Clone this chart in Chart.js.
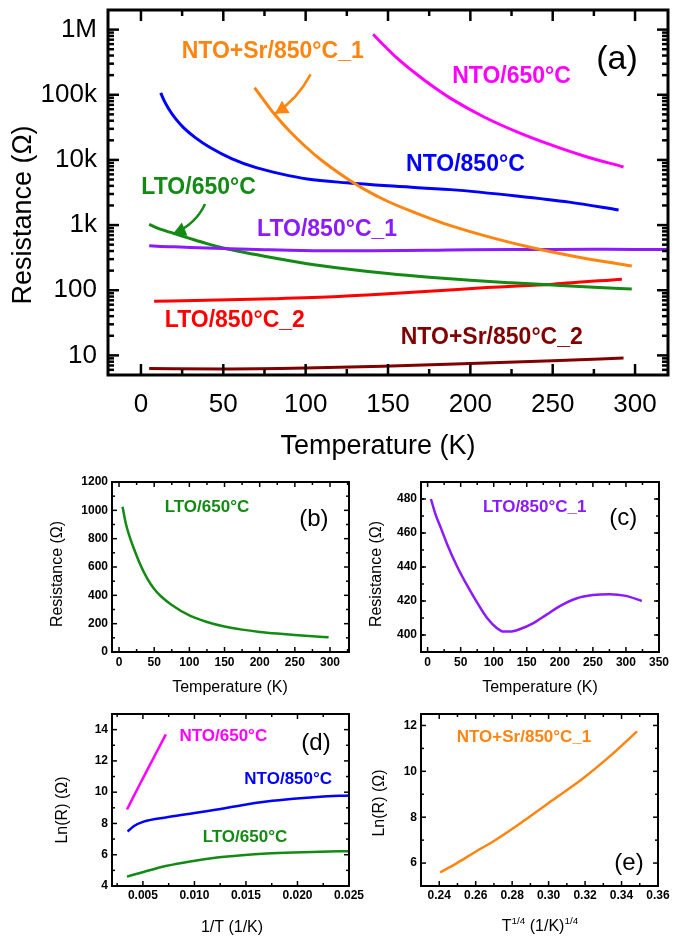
<!DOCTYPE html>
<html><head><meta charset="utf-8">
<script src="https://cdn.jsdelivr.net/npm/chart.js@4/dist/chart.umd.min.js"></script>
<style>
html,body{margin:0;padding:0;background:#fff;}
body{width:682px;height:939px;position:relative;overflow:hidden;}
canvas{position:absolute;}
</style></head>
<body>
<canvas id="pa"></canvas><canvas id="pb"></canvas><canvas id="pc"></canvas><canvas id="pd"></canvas><canvas id="pe"></canvas>
<script>
// ================= DATA =================
// Panel (a) axis ticks
const aTicksX = [0, 50, 100, 150, 200, 250, 300];
const aTickLabelsX = ['0', '50', '100', '150', '200', '250', '300'];
const aTicksY = [10, 100, 1000, 10000, 100000, 1000000];
const aTickLabelsY = ['10', '100', '1k', '10k', '100k', '1M'];

// Series: Temperature (K) / Resistance (Ohm)
const tNTO650 = [141, 147, 155, 167, 178, 188, 208, 229, 249, 269, 293];
const rNTO650 = [850000, 590000, 375000, 210000, 130000, 88000, 46000, 26500, 17000, 11500, 7800];

const tNTOSr1 = [69, 75, 81, 90, 101, 110, 121, 136, 150, 167, 188, 214, 239, 265, 298];
const rNTOSr1 = [129000, 80000, 50600, 28000, 15100, 9700, 6100, 3500, 2300, 1530, 980, 630, 440, 324, 235];

const tNTO850 = [12, 14, 17, 21, 26, 33, 42, 55, 70, 85, 101, 125, 150, 188, 228, 260, 290];
const rNTO850 = [107000, 82000, 60000, 43000, 31000, 22000, 15500, 10500, 7600, 6100, 5100, 4450, 4000, 3500, 2800, 2250, 1700];

const tLTO650 = [5, 10, 15, 20, 30, 40, 50, 60, 75, 100, 125, 150, 175, 200, 225, 250, 275, 298];
const rLTO650 = [1025, 900, 815, 745, 620, 520, 445, 392, 332, 258, 212, 180, 158, 142, 130, 120, 111, 104];

const tLTO850_1 = [5, 12, 20, 30, 45, 60, 75, 90, 105, 115, 125, 140, 160, 180, 200, 225, 250, 275, 300, 324];
const rLTO850_1 = [480, 471, 463, 453, 440, 429, 419, 410, 404, 402, 402, 403.5, 407, 412, 417, 421.5, 423.5, 424, 423, 420];

const tLTO850_2 = [8, 40, 80, 120, 150, 180, 210, 250, 292];
const rLTO850_2 = [68, 70, 74, 80, 88, 98, 110, 124, 148];

const tNTOSr2 = [5, 50, 100, 147, 200, 250, 293];
const rNTOSr2 = [6.3, 6.2, 6.4, 6.8, 7.5, 8.3, 9.1];

// Panel (b) ticks
const bTicksX = [0, 50, 100, 150, 200, 250, 300];
const bTickLabelsX = ['0', '50', '100', '150', '200', '250', '300'];
const bTicksY = [0, 200, 400, 600, 800, 1000, 1200];
const bTickLabelsY = ['0', '200', '400', '600', '800', '1000', '1200'];

// Panel (c) ticks
const cTicksX = [0, 50, 100, 150, 200, 250, 300, 350];
const cTickLabelsX = ['0', '50', '100', '150', '200', '250', '300', '350'];
const cTicksY = [400, 420, 440, 460, 480];
const cTickLabelsY = ['400', '420', '440', '460', '480'];

// Panel (d): 1/T (1/K) vs Ln(R)
const dInvNTO650 = [0.00345, 0.0040, 0.0045, 0.0050, 0.0055, 0.0060, 0.0065, 0.00723];
const dLnNTO650 = [8.89, 9.6, 10.25, 10.88, 11.52, 12.15, 12.78, 13.70];
const dInvNTO850 = [0.00352, 0.0041, 0.00507, 0.00733, 0.00959, 0.0122, 0.0146, 0.0170, 0.0196, 0.0222, 0.0250];
const dLnNTO850 = [7.48, 7.82, 8.12, 8.40, 8.62, 8.89, 9.17, 9.40, 9.58, 9.71, 9.79];
const dInvLTO650 = [0.00345, 0.00507, 0.00733, 0.00959, 0.0122, 0.0146, 0.0170, 0.0196, 0.0222, 0.0250];
const dLnLTO650 = [4.60, 4.90, 5.29, 5.57, 5.82, 5.97, 6.08, 6.15, 6.19, 6.23];
const dTicksX = [0.005, 0.010, 0.015, 0.020, 0.025];
const dTickLabelsX = ['0.005', '0.010', '0.015', '0.020', '0.025'];
const dTicksY = [4, 6, 8, 10, 12, 14];
const dTickLabelsY = ['4', '6', '8', '10', '12', '14'];

// Panel (e): T^1/4 vs Ln(R) for NTO+Sr/850°C_1
const eX = [0.2405, 0.2497, 0.2588, 0.2715, 0.286, 0.3025, 0.319, 0.3335, 0.3485];
const eLn = [5.59, 6.0, 6.44, 7.04, 7.82, 8.76, 9.70, 10.65, 11.74];
const eTicksX = [0.24, 0.26, 0.28, 0.30, 0.32, 0.34, 0.36];
const eTickLabelsX = ['0.24', '0.26', '0.28', '0.30', '0.32', '0.34', '0.36'];
const eTicksY = [6, 8, 10, 12];
const eTickLabelsY = ['6', '8', '10', '12'];

// ================= STYLE =================
const FONT = '"Liberation Sans", Arial, Helvetica, sans-serif';
const COL = {
  nto650: '#ff00ff', ntoSr1: '#ff8410', nto850: '#0000ff', lto650: '#138a13',
  lto850_1: '#8b1aff', lto850_2: '#ff0000', ntoSr2: '#800000'
};
Chart.defaults.font.family = FONT;
Chart.defaults.color = '#000';

function pts(xs, ys) { return xs.map((v, i) => ({x: v, y: ys[i]})); }
function ds(xs, ys, color, w) {
  return {data: pts(xs, ys), borderColor: color, backgroundColor: color, borderWidth: w,
    showLine: true, pointRadius: 0, pointHoverRadius: 0, cubicInterpolationMode: 'monotone', fill: false};
}
function range(a, b, s) { const r = []; for (let v = a; v <= b + 1e-9; v += s) r.push(+v.toFixed(6)); return r; }

function axis(o) {
  return {
    type: o.type || 'linear', min: o.min, max: o.max, position: o.horiz ? 'bottom' : 'left',
    grid: {display: false, drawTicks: false}, border: {display: false},
    ticks: {font: o.font, color: '#000', padding: o.pad, autoSkip: false, maxRotation: 0, minRotation: 0,
      callback: (v, i) => o.labels[i]},
    afterBuildTicks: s => { s.ticks = o.values.map(v => ({value: v})); },
    afterFit: s => {
      if (o.horiz) s.height = o.size; else s.width = o.size;
      s.paddingLeft = s.paddingRight = s.paddingTop = s.paddingBottom = 0;
    }
  };
}

function drawRich(ctx, parts, x, y, size, weight, rot) {
  ctx.save();
  ctx.translate(x, y);
  if (rot) ctx.rotate(rot);
  let w = 0;
  parts.forEach(p => { ctx.font = weight + ' ' + (p.sup ? size * 0.62 : size) + 'px ' + FONT; p.w = ctx.measureText(p.t).width; w += p.w; });
  let cx = -w / 2;
  ctx.textAlign = 'left'; ctx.textBaseline = 'middle'; ctx.fillStyle = '#000';
  parts.forEach(p => {
    ctx.font = weight + ' ' + (p.sup ? size * 0.62 : size) + 'px ' + FONT;
    ctx.fillText(p.t, cx, p.sup ? -size * 0.38 : 0);
    cx += p.w;
  });
  ctx.restore();
}

const deco = {
  id: 'deco',
  afterDatasetsDraw(chart, args, o) {
    const {ctx, chartArea: a, scales: {x, y}} = chart;
    ctx.save();
    ctx.strokeStyle = '#000';
    ctx.lineCap = 'butt';
    const line = (x1, y1, x2, y2) => { ctx.beginPath(); ctx.moveTo(x1, y1); ctx.lineTo(x2, y2); ctx.stroke(); };
    const tick = (vals, len, ax, lw) => {
      ctx.lineWidth = lw;
      vals.forEach(v => {
        if (ax === 'x') {
          const p = x.getPixelForValue(v);
          if (p < a.left + 1 || p > a.right - 1) return;
          line(p, a.bottom, p, a.bottom - len); line(p, a.top, p, a.top + len);
        } else {
          const p = y.getPixelForValue(v);
          if (p < a.top + 1 || p > a.bottom - 1) return;
          line(a.left, p, a.left + len, p); line(a.right, p, a.right - len, p);
        }
      });
    };
    tick(o.xMinor, o.minLen, 'x', o.tickW);
    tick(o.xMajor, o.majLen, 'x', o.tickW);
    tick(o.yMinor, o.minLen, 'y', o.tickW);
    tick(o.yMajor, o.majLen, 'y', o.tickW);
    ctx.lineWidth = o.frameW;
    ctx.strokeRect(a.left, a.top, a.right - a.left, a.bottom - a.top);

    (o.arrows || []).forEach(ar => {
      const P = ar.pts.map(p => [x.getPixelForValue(p[0]), y.getPixelForValue(p[1])]);
      ctx.strokeStyle = ar.color; ctx.fillStyle = ar.color; ctx.lineWidth = ar.w;
      ctx.beginPath(); ctx.moveTo(P[0][0], P[0][1]);
      ctx.quadraticCurveTo(P[1][0], P[1][1], P[2][0], P[2][1]); ctx.stroke();
      const dx = P[2][0] - P[1][0], dy = P[2][1] - P[1][1], L = Math.hypot(dx, dy);
      const ux = dx / L, uy = dy / L, hl = ar.head, hw = ar.head * 0.55;
      const bx = P[2][0] - ux * hl, by = P[2][1] - uy * hl;
      ctx.beginPath(); ctx.moveTo(P[2][0], P[2][1]);
      ctx.lineTo(bx - uy * hw, by + ux * hw); ctx.lineTo(bx + uy * hw, by - ux * hw); ctx.closePath(); ctx.fill();
    });

    (o.labels || []).forEach(l => {
      ctx.font = l.font + ' ' + FONT; ctx.fillStyle = l.color;
      ctx.textAlign = 'center'; ctx.textBaseline = 'middle';
      ctx.fillText(l.text, x.getPixelForValue(l.x), y.getPixelForValue(l.y));
    });

    (o.titles || []).forEach(t => drawRich(ctx, t.parts, t.x, t.y, t.size, t.weight || 'normal', t.rot));
    ctx.restore();
  }
};

function makeChart(id, box, area, xAx, yAx, datasets, decoOpts) {
  const cv = document.getElementById(id);
  cv.width = box.w; cv.height = box.h;
  cv.style.left = box.left + 'px'; cv.style.top = box.top + 'px';
  cv.style.width = box.w + 'px'; cv.style.height = box.h + 'px';
  const l = area.l - box.left, t = area.t - box.top, r = area.r - box.left, b = area.b - box.top;
  xAx.size = box.h - b; yAx.size = l;
  new Chart(cv, {
    type: 'scatter',
    data: {datasets},
    options: {
      responsive: false, animation: false, devicePixelRatio: 1,
      layout: {padding: {left: 0, top: t, right: box.w - r, bottom: 0}},
      plugins: {legend: {display: false}, tooltip: {enabled: false}, deco: decoOpts},
      scales: {x: axis(xAx), y: axis(yAx)}
    },
    plugins: [deco]
  });
}

// ---------- Panel (a) ----------
const logMinor = [];
[1, 10, 100, 1000, 10000, 100000, 1000000].forEach(d => { for (let m = 2; m <= 9; m++) logMinor.push(m * d); });
makeChart('pa', {left: 0, top: 0, w: 682, h: 462}, {l: 108, t: 10, r: 668, b: 375},
  {horiz: true, min: -20, max: 320, values: aTicksX, labels: aTickLabelsX, font: {size: 26, family: FONT}, pad: 14},
  {type: 'logarithmic', min: 5, max: 2000000, values: aTicksY, labels: aTickLabelsY, font: {size: 26, family: FONT}, pad: 11},
  [ds(tNTO650, rNTO650, COL.nto650, 3), ds(tNTOSr1, rNTOSr1, COL.ntoSr1, 3), ds(tNTO850, rNTO850, COL.nto850, 3),
   ds(tLTO850_1, rLTO850_1, COL.lto850_1, 3), ds(tLTO650, rLTO650, COL.lto650, 3),
   ds(tLTO850_2, rLTO850_2, COL.lto850_2, 3), ds(tNTOSr2, rNTOSr2, COL.ntoSr2, 3)],
  {xMajor: aTicksX, xMinor: range(25, 325, 50), yMajor: aTicksY, yMinor: logMinor,
   majLen: 11, minLen: 6, tickW: 2.5, frameW: 3,
   labels: [
     {text: 'NTO+Sr/850°C_1', x: 80, y: 453000, color: COL.ntoSr1, font: 'bold 23px'},
     {text: 'NTO/650°C', x: 225, y: 191000, color: COL.nto650, font: 'bold 23px'},
     {text: '(a)', x: 289, y: 351000, color: '#000', font: '34px'},
     {text: 'NTO/850°C', x: 197, y: 8400, color: COL.nto850, font: 'bold 23px'},
     {text: 'LTO/650°C', x: 35, y: 3700, color: COL.lto650, font: 'bold 23px'},
     {text: 'LTO/850°C_1', x: 113, y: 850, color: COL.lto850_1, font: 'bold 23px'},
     {text: 'LTO/850°C_2', x: 57, y: 34, color: COL.lto850_2, font: 'bold 23px'},
     {text: 'NTO+Sr/850°C_2', x: 213, y: 18.6, color: COL.ntoSr2, font: 'bold 23px'}
   ],
   arrows: [
     {pts: [[103, 205000], [95, 84500], [81.3, 51000]], color: COL.ntoSr1, w: 2.5, head: 13},
     {pts: [[38.9, 2100], [33.4, 1030], [19.3, 724]], color: COL.lto650, w: 2.5, head: 13}
   ],
   titles: [
     {parts: [{t: 'Resistance (Ω)'}], x: 24, y: 215, size: 27, rot: -Math.PI / 2},
     {parts: [{t: 'Temperature (K)'}], x: 378, y: 447, size: 27}
   ]});

// ---------- Panel (b) ----------
const smallTick = {size: 12, weight: 'bold', family: FONT};
makeChart('pb', {left: 0, top: 462, w: 360, h: 238}, {l: 112, t: 482, r: 349, b: 652},
  {horiz: true, min: -10, max: 327, values: bTicksX, labels: bTickLabelsX, font: smallTick, pad: 3},
  {min: 0, max: 1200, values: bTicksY, labels: bTickLabelsY, font: smallTick, pad: 4},
  [ds(tLTO650, rLTO650, COL.lto650, 2.5)],
  {xMajor: bTicksX, xMinor: range(25, 325, 50), yMajor: bTicksY, yMinor: range(100, 1100, 200),
   majLen: 5, minLen: 3, tickW: 1.5, frameW: 2,
   labels: [
     {text: 'LTO/650°C', x: 125, y: 1023, color: COL.lto650, font: 'bold 17px'},
     {text: '(b)', x: 277, y: 939, color: '#000', font: '24px'}
   ],
   titles: [
     {parts: [{t: 'Resistance (Ω)'}], x: 58, y: 112, size: 16, rot: -Math.PI / 2},
     {parts: [{t: 'Temperature (K)'}], x: 230, y: 226, size: 16}
   ]});

// ---------- Panel (c) ----------
makeChart('pc', {left: 355, top: 462, w: 327, h: 238}, {l: 421, t: 482, r: 659, b: 652},
  {horiz: true, min: -10, max: 350, values: cTicksX, labels: cTickLabelsX, font: smallTick, pad: 3},
  {min: 390, max: 490, values: cTicksY, labels: cTickLabelsY, font: smallTick, pad: 4},
  [ds(tLTO850_1, rLTO850_1, COL.lto850_1, 2.5)],
  {xMajor: cTicksX, xMinor: range(25, 325, 50), yMajor: cTicksY, yMinor: range(390, 490, 10),
   majLen: 5, minLen: 3, tickW: 1.5, frameW: 2,
   labels: [
     {text: 'LTO/850°C_1', x: 162, y: 475.3, color: COL.lto850_1, font: 'bold 17px'},
     {text: '(c)', x: 296, y: 468.8, color: '#000', font: '24px'}
   ],
   titles: [
     {parts: [{t: 'Resistance (Ω)'}], x: 22, y: 112, size: 16, rot: -Math.PI / 2},
     {parts: [{t: 'Temperature (K)'}], x: 185, y: 226, size: 16}
   ]});

// ---------- Panel (d) ----------
makeChart('pd', {left: 0, top: 700, w: 370, h: 239}, {l: 112, t: 714, r: 349, b: 886},
  {horiz: true, min: 0.002, max: 0.025, values: dTicksX, labels: dTickLabelsX, font: smallTick, pad: 2},
  {min: 4, max: 15, values: dTicksY, labels: dTickLabelsY, font: smallTick, pad: 4},
  [ds(dInvNTO650, dLnNTO650, COL.nto650, 2.5), ds(dInvNTO850, dLnNTO850, COL.nto850, 2.5), ds(dInvLTO650, dLnLTO650, COL.lto650, 2.5)],
  {xMajor: dTicksX, xMinor: range(0.0025, 0.0225, 0.005), yMajor: dTicksY, yMinor: range(5, 15, 2),
   majLen: 5, minLen: 3, tickW: 1.5, frameW: 2,
   labels: [
     {text: 'NTO/650°C', x: 0.0128, y: 13.55, color: COL.nto650, font: 'bold 17px'},
     {text: 'NTO/850°C', x: 0.0191, y: 10.84, color: COL.nto850, font: 'bold 17px'},
     {text: 'LTO/650°C', x: 0.0149, y: 7.13, color: COL.lto650, font: 'bold 17px'},
     {text: '(d)', x: 0.0218, y: 13.1, color: '#000', font: '24px'}
   ],
   titles: [
     {parts: [{t: 'Ln(R) (Ω)'}], x: 63, y: 110, size: 16, rot: -Math.PI / 2},
     {parts: [{t: '1/T (1/K)'}], x: 232, y: 228, size: 16}
   ]});

// ---------- Panel (e) ----------
makeChart('pe', {left: 355, top: 700, w: 327, h: 239}, {l: 421, t: 714, r: 658, b: 886},
  {horiz: true, min: 0.23, max: 0.36, values: eTicksX, labels: eTickLabelsX, font: smallTick, pad: 2},
  {min: 5, max: 12.5, values: eTicksY, labels: eTickLabelsY, font: smallTick, pad: 4},
  [ds(eX, eLn, COL.ntoSr1, 2.5)],
  {xMajor: eTicksX, xMinor: range(0.23, 0.35, 0.02), yMajor: eTicksY, yMinor: range(5, 11, 2),
   majLen: 5, minLen: 3, tickW: 1.5, frameW: 2,
   labels: [
     {text: 'NTO+Sr/850°C_1', x: 0.2865, y: 11.5, color: COL.ntoSr1, font: 'bold 17px'},
     {text: '(e)', x: 0.3441, y: 6.0, color: '#000', font: '24px'}
   ],
   titles: [
     {parts: [{t: 'Ln(R) (Ω)'}], x: 25, y: 103, size: 16, rot: -Math.PI / 2},
     {parts: [{t: 'T'}, {t: '1/4', sup: true}, {t: ' (1/K)'}, {t: '1/4', sup: true}], x: 185, y: 227, size: 16}
   ]});
</script>
</body></html>
